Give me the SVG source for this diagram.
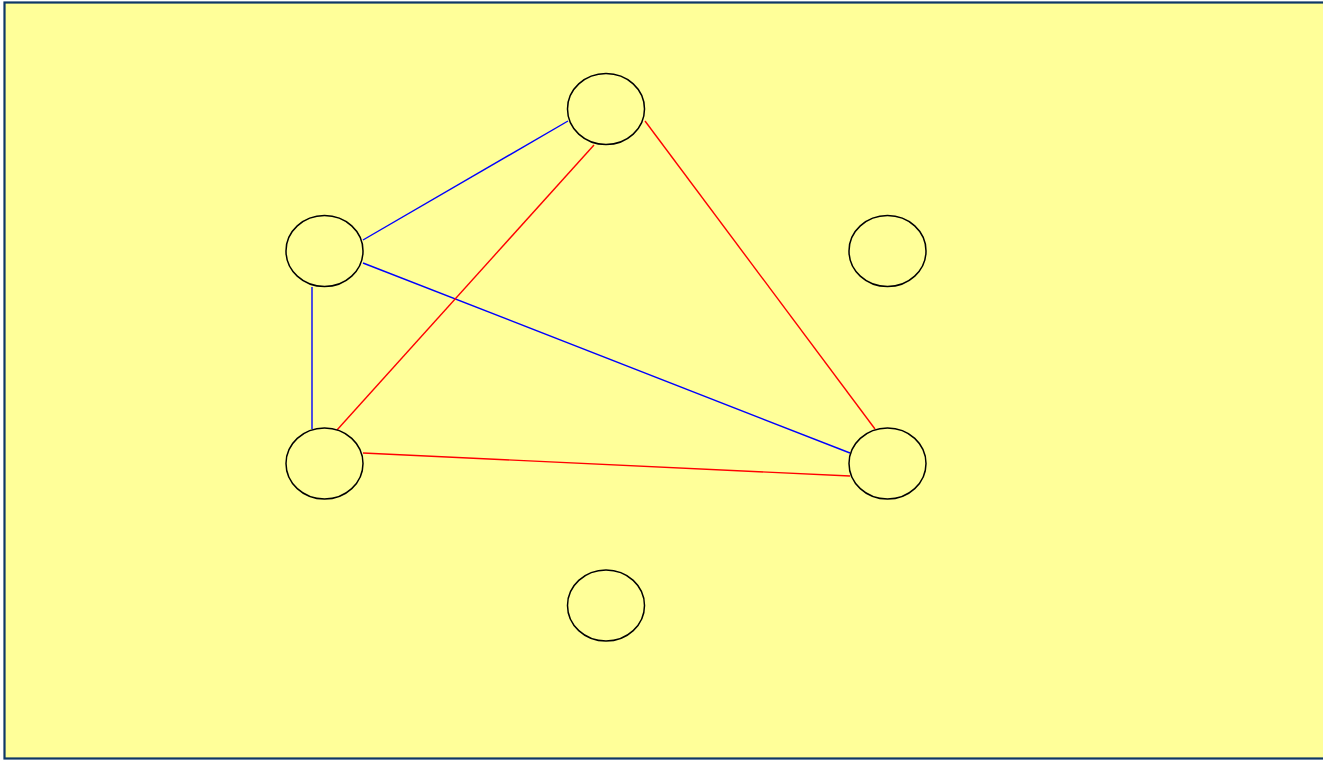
<svg xmlns="http://www.w3.org/2000/svg" width="1323" height="760" viewBox="0 0 1323 760">
<style>
.n{fill:#ffff99;stroke:#000;stroke-width:1.5}
.b{stroke:#0000ff;stroke-width:1.4;fill:none}
.r{stroke:#ff0000;stroke-width:1.4;fill:none}
</style>
<rect x="4.5" y="2.5" width="1330" height="756" fill="#ffff99" stroke="#0e3866" stroke-width="2.2"/>
<g id="connectors">
<line class="b" x1="568" y1="121" x2="363" y2="240"/>
<line class="b" x1="363" y1="263" x2="850" y2="453"/>
<line class="b" x1="312" y1="287" x2="312" y2="429"/>
<line class="r" x1="594" y1="145" x2="337" y2="430"/>
<line class="r" x1="645" y1="121" x2="875" y2="429"/>
<line class="r" x1="363" y1="453" x2="850" y2="476"/>
</g>
<g id="n1"><ellipse class="n" cx="606" cy="109" rx="38.5" ry="35.5"/></g>
<g id="n2"><ellipse class="n" cx="324.5" cy="251" rx="38.5" ry="35.5"/></g>
<g id="n3"><ellipse class="n" cx="887.5" cy="251" rx="38.5" ry="35.5"/></g>
<g id="n4"><ellipse class="n" cx="324.5" cy="463.5" rx="38.5" ry="35.5"/></g>
<g id="n5"><ellipse class="n" cx="887.5" cy="463.5" rx="38.5" ry="35.5"/></g>
<g id="n6"><ellipse class="n" cx="606" cy="605.5" rx="38.5" ry="35.5"/></g>
</svg>
